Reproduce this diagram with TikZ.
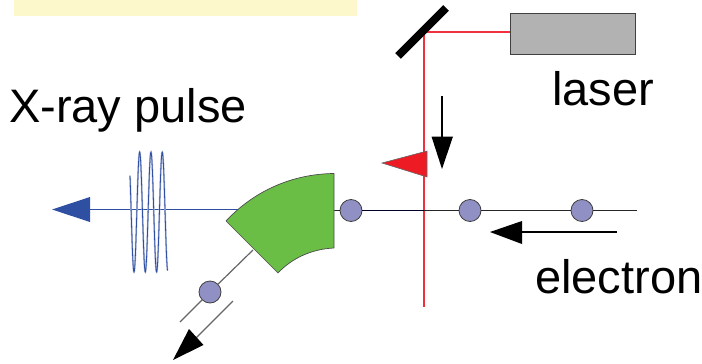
\documentclass[tikz,border=0pt]{standalone}
\usepackage{fontspec}
\setmainfont{Liberation Sans}
\definecolor{ballc}{HTML}{9090C4}
\definecolor{greenc}{HTML}{6ABD45}
\definecolor{bluec}{HTML}{2E4FA2}
\definecolor{redc}{HTML}{ED1C24}
\definecolor{beamr}{HTML}{F0303A}
\definecolor{yellowc}{HTML}{FDF8CC}
\definecolor{greyc}{HTML}{B2B2B2}
\tikzset{
  ball/.style={circle,draw=black!75,line width=0.8pt,fill=ballc,minimum size=22pt,inner sep=0pt},
  lbl/.style={anchor=base west,inner sep=0pt,font=\fontsize{47}{47}\selectfont},
  thinline/.style={line width=1.2pt,draw=black!85},
  greyline/.style={line width=1.2pt,draw=black!60},
  redline/.style={line width=1.2pt,draw=beamr},
  blueline/.style={line width=1.2pt,draw=bluec}
}
\begin{document}
\begin{tikzpicture}[x=1pt,y=-1pt]
\useasboundingbox (0,0) rectangle (702,364);
% banner
\fill[yellowc] (14,0) rectangle (357,16);
% coordinates
\coordinate (bend) at (424,32);
\coordinate (redend) at (424,307);
\coordinate (cross) at (424,210.5);
\coordinate (beamend) at (637,210.5);
\coordinate (dumpin) at (253,250);
\coordinate (dumpend) at (180,322);
\coordinate (xtail) at (90,209.5);
\coordinate (xstart) at (245,209.5);
% laser
\node[draw=black!75,line width=1pt,fill=greyc,minimum width=125pt,minimum height=41pt,inner sep=0pt] (laser) at (572.5,33.5) {};
\draw[redline] (laser.west |- bend) -- (bend) -- (redend);
\draw[line width=8pt,black] (398,56) -- (446,8);
% balls and beam
\node[ball] (b1) at (351,210.5) {};
\node[ball] (b2) at (470,210.5) {};
\node[ball] (b3) at (582,210.5) {};
\node[ball] (b4) at (210,292) {};
\draw[thinline] (beamend) -- (b3);
\draw[thinline] (b3) -- (b2);
\draw[thinline] (b2) -- (cross);
\draw[line width=1.8pt,draw=black!85!blue] (cross) -- (b1);
\draw[thinline] (b1) -- (334,210.5);
\draw[redline] (cross) -- (redend);
% x-ray
\draw[blueline] (xstart) -- (xtail);
\fill[bluec] (52,209.5) -- (90,197) -- (90,222) -- cycle;
\draw[line width=1.8pt,draw=bluec!35] plot[domain=130:167.5,samples=160,smooth] (\x,{212+60*cos(360*(\x-134)/11.3)});
\draw[line width=0.8pt,draw=bluec] plot[domain=130:167.5,samples=160,smooth] (\x,{212+60*cos(360*(\x-134)/11.3)});
% green magnet
\draw[draw=black!70,line width=0.7pt,fill=greenc,line join=round] (334,173.5) .. controls (292,174) and (254,191) .. (226,221) -- (278,273) .. controls (292,258) and (312,249) .. (334,248) -- cycle;
% dump
\draw[greyline] (dumpin) -- (b4);
\draw[greyline] (b4) -- (dumpend);
\draw[greyline] (233,301) -- (196,338);
\fill[black] (173,360) -- (189,329) -- (203.5,345) -- cycle;
% laser pulse
\draw[draw=black!60,line width=0.6pt,fill=redc] (382,163) -- (427,151) -- (427,177) -- cycle;
% direction arrows
\draw[line width=1.2pt,black] (442,96) -- (442,137);
\fill[black] (442,169) -- (431.5,136.5) -- (453,136.5) -- cycle;
\draw[line width=1.2pt,black] (617,232) -- (522,232);
\fill[black] (490,232) -- (522,221) -- (522,244) -- cycle;
% labels
\node[lbl] (xlabel) at (9,122.5) {X-ray pulse};
\node[lbl] (laserlabel) at (552,105) {laser};
\node[lbl] (elabel) at (535,293.5) {electron};
\end{tikzpicture}
\end{document}
